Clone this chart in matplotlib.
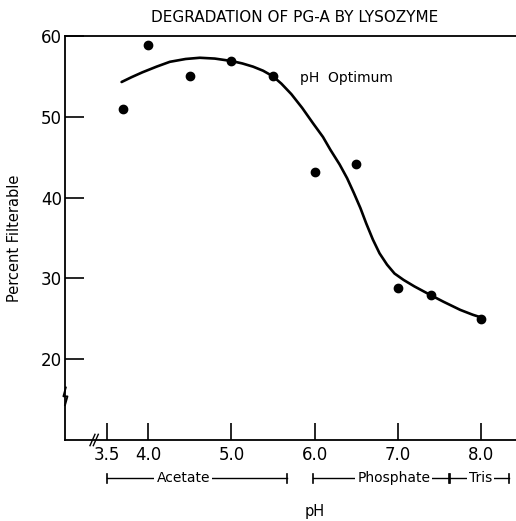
import matplotlib
matplotlib.use('Agg')
import matplotlib.pyplot as plt
import matplotlib.transforms as mtransforms

plt.rcParams['font.family'] = ['DejaVu Sans']

# 测量点
ph_points = [3.7, 4.0, 4.5, 5.0, 5.5, 6.0, 6.5, 7.0, 7.4, 8.0]
pct_points = [51.0, 58.9, 55.1, 56.9, 55.0, 43.2, 44.2, 28.8, 28.0, 25.0]

# 手绘拟合曲线
ph_curve = [3.68, 3.8, 3.93, 4.1, 4.26, 4.45, 4.62, 4.8, 5.0, 5.13, 5.26, 5.38,
            5.5, 5.6, 5.72, 5.85, 5.98, 6.1, 6.19, 6.3, 6.39, 6.47, 6.55, 6.62,
            6.70, 6.78, 6.87, 6.96, 7.07, 7.2, 7.39, 7.55, 7.75, 7.9, 8.02]
pct_curve = [54.3, 54.9, 55.5, 56.2, 56.8, 57.15, 57.3, 57.2, 56.9, 56.6, 56.2, 55.7,
             55.0, 54.1, 52.8, 51.1, 49.2, 47.5, 45.9, 44.1, 42.4, 40.6, 38.7, 36.8,
             34.8, 33.1, 31.7, 30.6, 29.8, 29.0, 27.95, 27.1, 26.1, 25.5, 25.1]

xticks = [3.5, 4.0, 5.0, 6.0, 7.0, 8.0]
xticklabels = ['3.5', '4.0', '5.0', '6.0', '7.0', '8.0']
yticks = [20, 30, 40, 50, 60]

# 缓冲液范围
buffers = ['Acetate', 'Phosphate', 'Tris']
buffer_start = [3.5, 5.98, 7.63]
buffer_end = [5.67, 7.61, 8.33]
buffer_text_x = [4.42, 6.95, 7.99]

fig = plt.figure(figsize=(5.16, 5.21), dpi=100)
ax = fig.add_axes([0.126, 0.1555, 0.874, 0.7755])

ax.plot(ph_curve, pct_curve, color='black', lw=1.9, solid_capstyle='round',
        solid_joinstyle='round')
ax.plot(ph_points, pct_points, 'o', color='black', ms=6)

ax.set_xlim(3.0, 8.42)
ax.set_ylim(10, 60)
ax.set_xticks(xticks)
ax.set_xticklabels(xticklabels)
ax.set_yticks(yticks)
ax.tick_params(axis='x', direction='in', length=12, width=1.2, labelsize=12, pad=4)
ax.tick_params(axis='y', direction='in', length=14, width=1.2, labelsize=12, pad=2)
ax.spines['right'].set_visible(False)
for s in ['left', 'bottom', 'top']:
    ax.spines[s].set_linewidth(1.3)

ax.set_title('DEGRADATION OF PG-A BY LYSOZYME', fontsize=11, pad=10, x=0.51)
ax.set_ylabel('Percent Filterable', fontsize=10.5, labelpad=14)
ax.text(5.82, 54.8, 'pH  Optimum', fontsize=10, va='center')

# 坐标轴断开标记
ax.plot([3.3, 3.36], [9.3, 10.7], color='black', lw=1, clip_on=False)
ax.plot([3.34, 3.40], [9.3, 10.7], color='black', lw=1, clip_on=False)
ax.plot([3.0, 3.03, 2.98, 3.01], [14.3, 15.4, 15.4, 16.5], color='black', lw=1.3, clip_on=False)

# 缓冲液括号
trans = mtransforms.blended_transform_factory(ax.transData, ax.transAxes)
yb = -0.095
for name, x0, x1, xt in zip(buffers, buffer_start, buffer_end, buffer_text_x):
    ax.plot([x0, x1], [yb, yb], color='black', lw=1, transform=trans, clip_on=False)
    ax.plot([x0, x0], [yb - 0.012, yb + 0.012], color='black', lw=1.2, transform=trans, clip_on=False)
    ax.plot([x1, x1], [yb - 0.012, yb + 0.012], color='black', lw=1.2, transform=trans, clip_on=False)
    ax.text(xt, yb, name, fontsize=10, ha='center', va='center', transform=trans,
            bbox=dict(facecolor='white', edgecolor='none', pad=1.5))

ax.text(6.0, -0.178, 'pH', fontsize=10.5, ha='center', va='center', transform=trans)

fig.savefig('out.png', dpi=100)
